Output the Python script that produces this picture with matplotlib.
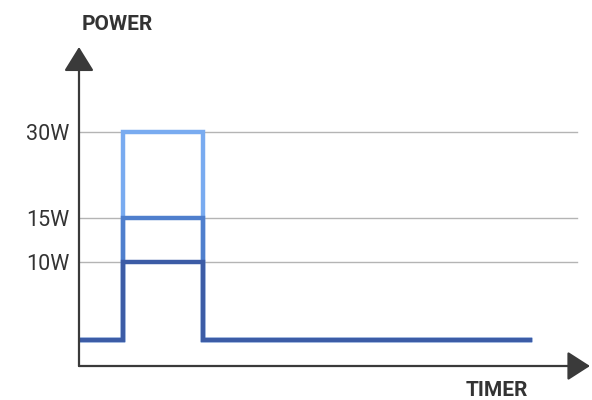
import numpy as np
import matplotlib
matplotlib.use("Agg")
import matplotlib.pyplot as plt

# power levels of the three pulses (W), idle level and timing (arbitrary time units)
PULSE_POWER = [30, 15, 10]
PULSE_COLORS = ["#79abf0", "#4f7fcd", "#3c5ca6"]
IDLE_POWER = 0
T_ON, T_OFF, T_END = 1.1, 3.1, 11.3
TICK_VALUES = [10, 15, 30]
TICK_LABELS = ["10W", "15W", "30W"]

# non-linear display scale for the power axis (schematic drawing)
P_ANCH = np.array([-5, 0, 10, 15, 30, 45])
H_ANCH = np.array([0, 26, 104, 148, 234, 319])
fwd = lambda p: np.interp(p, P_ANCH, H_ANCH)
inv = lambda h: np.interp(h, H_ANCH, P_ANCH)

W, H = 592, 400
fig = plt.figure(figsize=(W / 100, H / 100), dpi=100)
ax = fig.add_axes([79 / W, 34 / H, 511 / W, 319 / H])
ax.set_yscale("function", functions=(fwd, inv))
ax.set_ylim(-5, 45)
ax.set_xlim(0, 12.8)

for p in TICK_VALUES:
    ax.axhline(p, xmin=0, xmax=0.975, color="#b4b4b4", lw=1.0, zorder=1)

for p, c in zip(PULSE_POWER, PULSE_COLORS):
    t = [0, T_ON, T_ON, T_OFF, T_OFF, T_END]
    y = [IDLE_POWER, IDLE_POWER, p, p, IDLE_POWER, IDLE_POWER]
    ax.plot(t, y, color=c, lw=3.2, solid_joinstyle="miter", zorder=3)

for s in ax.spines.values():
    s.set_visible(False)
ax.set_xticks([])
ax.set_yticks(TICK_VALUES)
ax.set_yticklabels(TICK_LABELS, fontsize=15.5, color="#333333", family="Roboto")
ax.tick_params(axis="y", length=0, pad=7)
ax.minorticks_off()

axc = "#3a3a3a"
ax.annotate("", xy=(0, 1), xytext=(0, 0), xycoords="axes fraction",
            arrowprops=dict(arrowstyle="-|>,head_length=15,head_width=9.3", mutation_scale=1,
                            color=axc, lw=1.6, shrinkA=0, shrinkB=0), annotation_clip=False)
ax.annotate("", xy=(1, 0), xytext=(0, 0), xycoords="axes fraction",
            arrowprops=dict(arrowstyle="-|>,head_length=14,head_width=9", mutation_scale=1,
                            color=axc, lw=1.6, shrinkA=0, shrinkB=0), annotation_clip=False)

fig.text(117 / W, 1 - 24 / H, "POWER", ha="center", va="center", fontsize=15,
         fontweight="bold", color="#333333", family=["Liberation Sans Narrow", "Roboto"])
fig.text(497 / W, 1 - 390 / H, "TIMER", ha="center", va="center", fontsize=15,
         fontweight="bold", color="#333333", family=["Liberation Sans Narrow", "Roboto"])

fig.savefig("out.png", dpi=100)
